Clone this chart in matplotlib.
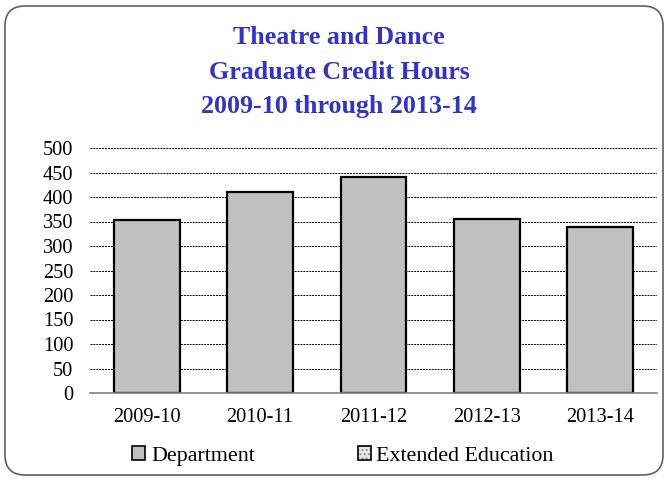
import matplotlib
matplotlib.use("Agg")
import matplotlib.pyplot as plt
from matplotlib.patches import FancyBboxPatch, Patch
from matplotlib.legend_handler import HandlerTuple

categories = ["2009-10", "2010-11", "2011-12", "2012-13", "2013-14"]
department = [353, 410, 441, 356, 339]
extended_education = [0, 0, 0, 0, 0]
yticks = [0, 50, 100, 150, 200, 250, 300, 350, 400, 450, 500]

plt.rcParams['font.family'] = ['Liberation Serif', 'DejaVu Serif']

fig = plt.figure(figsize=(6.68, 4.80), dpi=100)
ax = fig.add_axes([90/668, 1-393/480, (657-90)/668, (393-148)/480])

x = range(len(categories))
ax.bar(x, department, width=0.58, color='#C0C0C0', edgecolor='black', linewidth=1.6, zorder=3)
ax.bar(x, extended_education, width=0.58, bottom=department, color='#E8E8E8',
       edgecolor='#999999', hatch='....', linewidth=0, zorder=2)

ax.set_ylim(0, 500)
ax.set_xlim(-0.5, len(categories) - 0.5)
ax.set_yticks(yticks)
ax.set_xticks(list(x))
ax.set_xticklabels(categories)
ax.tick_params(axis='both', length=0, labelsize=14.7)
ax.tick_params(axis='x', pad=11)
ax.tick_params(axis='y', pad=12)
ax.yaxis.grid(True, linestyle=(0, (2, 1)), color='black', linewidth=0.7, zorder=0)
for s in ['top', 'right', 'left']:
    ax.spines[s].set_visible(False)
ax.spines['bottom'].set_color('#808080')
ax.spines['bottom'].set_linewidth(1.2)
ax.spines['bottom'].set_zorder(4)

title_lines = ["Theatre and Dance", "Graduate Credit Hours", "2009-10 through 2013-14"]
for i, t in enumerate(title_lines):
    fig.text(339/668, 1 - (38 + 34.5*i)/480, t, ha='center', va='center',
             fontsize=18.7, fontweight='bold', color='#3333CC')

h_dept = Patch(facecolor='#C0C0C0', edgecolor='black', linewidth=1.2)
h_ext = (Patch(facecolor='#E8E8E8', edgecolor='#999999', hatch='....', linewidth=0),
         Patch(facecolor='none', edgecolor='black', linewidth=1.2))
fig.legend([h_dept, h_ext], ["Department", "Extended Education"], loc='center',
           bbox_to_anchor=(343/668, 1 - 456/480), ncol=2, frameon=False,
           fontsize=15.8, handlelength=0.6, handleheight=0.6, handletextpad=0.25,
           columnspacing=4.7, handler_map={tuple: HandlerTuple(ndivide=1, pad=0)})

border = FancyBboxPatch((5/668, 5/480), 658/668, 469/480,
                        boxstyle="round,pad=0,rounding_size=0.03",
                        transform=fig.transFigure, facecolor='none',
                        edgecolor='#606060', linewidth=1.2, mutation_aspect=668/480)
fig.patches.append(border)

fig.savefig("out.png", dpi=100)
